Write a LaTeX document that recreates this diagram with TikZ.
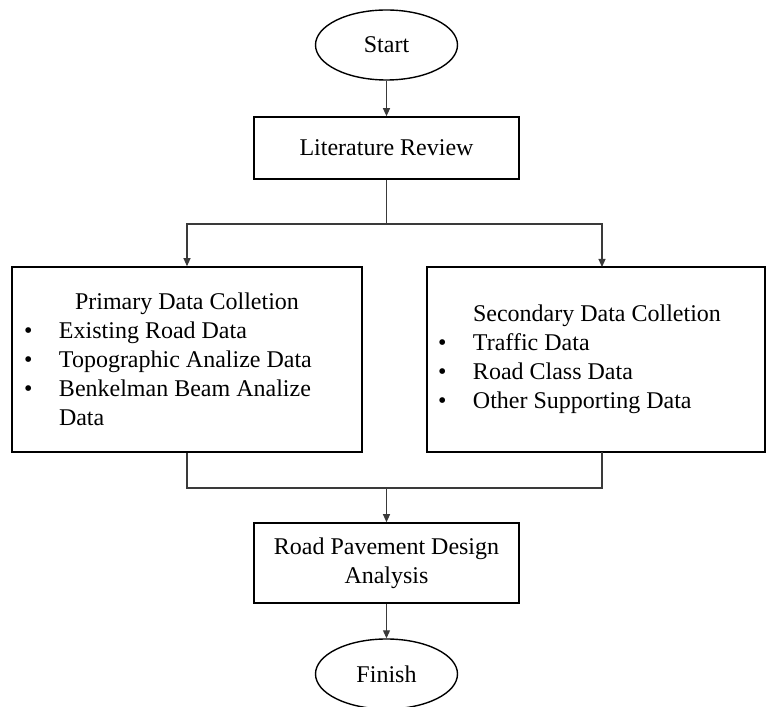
\documentclass[tikz,border=0pt]{standalone}
\usepackage{fontspec}
\setmainfont{Liberation Serif}
\usetikzlibrary{arrows.meta,shapes.geometric}
\definecolor{FlowLine}{HTML}{3A3A3A}
\newcommand{\flowitem}{\makebox[35pt][l]{\textbullet}}

\begin{document}
\begin{tikzpicture}[x=1pt,y=1pt,
  every node/.style={font=\fontsize{24}{29}\selectfont},
  terminal/.style={ellipse,draw,line width=1.4pt,minimum width=142pt,
    minimum height=70pt,inner sep=0pt},
  procbox/.style={rectangle,draw,line width=1.6pt,inner sep=0pt},
  listbox/.style={procbox,minimum height=185pt,align=flush left,inner xsep=12pt,
    execute at begin node={\setlength{\parindent}{0pt}}},
  flow/.style={draw=FlowLine,line width=1.1pt},
  arr/.style={flow,-{Triangle[length=8pt,width=7pt]}}]
  \useasboundingbox (0,0) rectangle (766,707);
  % main column
  \node[terminal] (start) at (386.5,662) {Start};
  \node[procbox,minimum width=265pt,minimum height=62pt] (lit) at (386.5,559)
    {Literature Review};
  \node[listbox,minimum width=350pt,text width=326pt] (prim) at (187,347.5)
    {{\centering Primary Data Colletion\par}
     \flowitem Existing Road Data\par
     \flowitem Topographic Analize Data\par
     \flowitem Benkelman Beam Analize\par
     \hspace*{35pt}Data};
  \node[listbox,minimum width=338pt,text width=316pt,inner xsep=11pt]
    (sec) at (596,347.5)
    {\hspace*{35pt}Secondary Data Colletion\par
     \flowitem Traffic Data\par
     \flowitem Road Class Data\par
     \flowitem Other Supporting Data};
  \node[procbox,minimum width=265pt,minimum height=80pt,align=center]
    (pave) at (386.5,144) {Road Pavement Design\\Analysis};
  \node[terminal] (finish) at (386.5,33) {Finish};
  % connectors
  \coordinate (split) at (386.5,483);
  \coordinate (secin) at (602,440);
  \coordinate (secout) at (602,255);
  \coordinate (join) at (386.5,219);
  \draw[arr] (start) -- (lit);
  \draw[flow] (lit) -- (split);
  \draw[arr] (split) -| (prim.north);
  \draw[arr] (split) -| (secin);
  \draw[flow] (prim.south) |- (join) -| (secout);
  \draw[arr] (join) -- (pave);
  \draw[arr] (pave) -- (finish);
\end{tikzpicture}
\end{document}
